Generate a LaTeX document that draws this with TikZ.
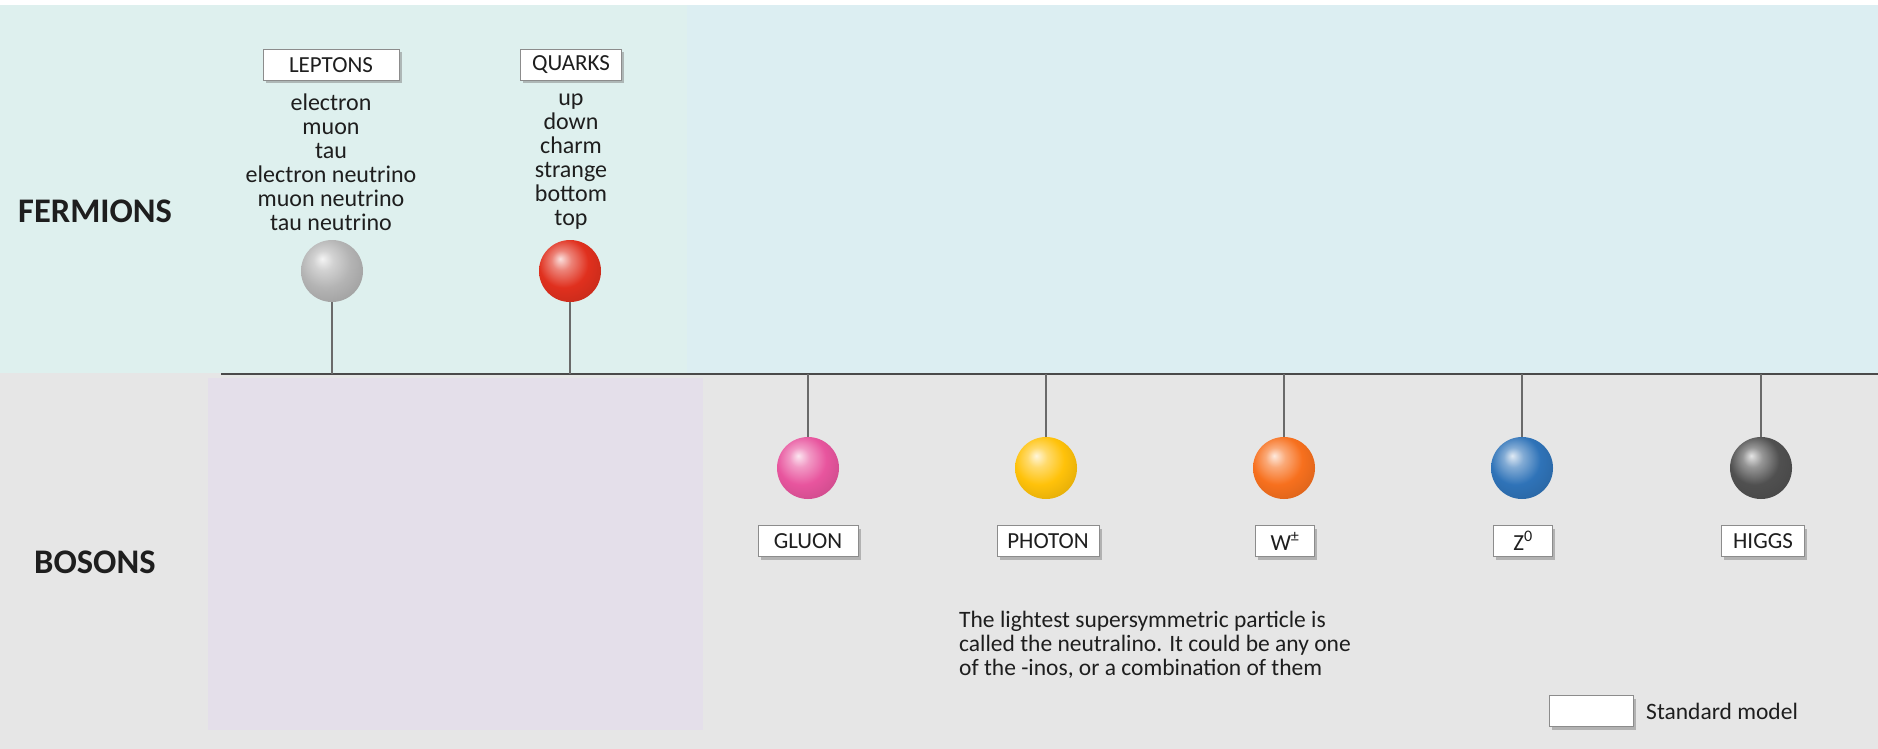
\documentclass[tikz,border=0pt]{standalone}
\usepackage{fontspec}
\setmainfont{Carlito}
\usetikzlibrary{shadows}
\definecolor{ferL}{HTML}{DEF0EE}
\definecolor{ferR}{HTML}{DCEEF2}
\definecolor{bosBG}{HTML}{E6E6E6}
\definecolor{susy}{HTML}{E4DFEA}
\definecolor{axis}{HTML}{4A4A4A}
\definecolor{stickc}{HTML}{6A6A6A}
\definecolor{txt}{HTML}{1E1E1E}
\definecolor{cLep}{HTML}{B4B4B4}
\definecolor{cQrk}{HTML}{E0301E}
\definecolor{cGlu}{HTML}{E8559E}
\definecolor{cPho}{HTML}{FFC20A}
\definecolor{cW}{HTML}{F7701E}
\definecolor{cZ}{HTML}{2F73B8}
\definecolor{cH}{HTML}{505050}
\makeatletter
\pgfdeclareradialshading[tikz@ball]{softball}{\pgfqpoint{-8bp}{10bp}}{%
  color(0bp)=(tikz@ball!15!white); color(8bp)=(tikz@ball!60!white);
  color(20bp)=(tikz@ball); color(34bp)=(tikz@ball!88!black); color(58bp)=(tikz@ball!65!black)}
\makeatother
\tikzset{
  tag/.style={draw=black!45, line width=0.8, fill=white, minimum height=31, inner sep=0,
    text=txt, font=\fontsize{23}{24}\selectfont,
    drop shadow={shadow xshift=2.5pt, shadow yshift=-3pt, fill=black!50, opacity=0.5}},
  particle/.style={circle, minimum size=62, inner sep=0, ball color=#1, shading=softball},
  stick/.style={draw=stickc, line width=1.6},
  listtext/.style={align=center, text=txt, font=\fontsize{24}{24}\selectfont, inner sep=0},
  grouplabel/.style={text=txt, font=\bfseries\fontsize{34.5}{38}\selectfont, anchor=west, inner sep=0}
}
\begin{document}
\begin{tikzpicture}[x=1pt,y=-1pt]
\useasboundingbox (0,0) rectangle (1878,749);
\fill[white] (0,0) rectangle (1878,749);
% backgrounds
\fill[ferL] (0,5) rectangle (687,373);
\fill[ferR] (687,5) rectangle (1878,373);
\fill[bosBG] (0,373) rectangle (1878,749);
\fill[susy] (208,378) rectangle (703,730);
% axis
\coordinate (axL) at (221,374);
\coordinate (axR) at (1878,374);
\draw[axis, line width=2.6] (axL) -- (axR);
% group labels
\node[grouplabel] (ferm) at (18,211) {FERMIONS};
\node[grouplabel] (bos) at (34,562) {BOSONS};
% fermions
\node[tag, minimum width=136] (leptag) at (331,65) {LEPTONS};
\node[tag, minimum width=101] (qrktag) at (571,65) {QUARKS};
\node[listtext] (leplist) at (331,162) {electron\\muon\\tau\\electron neutrino\\muon neutrino\\tau neutrino};
\node[listtext] (qrklist) at (571,162) {up\\down\\charm\\strange\\bottom\\top};
\node[particle=cLep] (lep) at (332,271) {};
\node[particle=cQrk] (qrk) at (570,271) {};
\draw[stick] (lep.south) -- (lep |- axL);
\draw[stick] (qrk.south) -- (qrk |- axL);
% bosons
\node[particle=cGlu] (glu) at (808,468) {};
\node[particle=cPho] (pho) at (1046,468) {};
\node[particle=cW] (wb) at (1284,468) {};
\node[particle=cZ] (zb) at (1522,468) {};
\node[particle=cH] (hig) at (1761,468) {};
\foreach \b in {glu,pho,wb,zb,hig}{\draw[stick] (\b |- axL) -- (\b.north);}
\node[tag, minimum width=100] (glutag) at (808,541) {GLUON};
\node[tag, minimum width=102] (photag) at (1048,541) {PHOTON};
\node[tag, minimum width=59] (wtag) at (1285,541) {W\textsuperscript{±}};
\node[tag, minimum width=59] (ztag) at (1523,541) {Z\textsuperscript{0}};
\node[tag, minimum width=83] (higtag) at (1763,541) {HIGGS};
% note
\node[align=left, anchor=west, text=txt, inner sep=0, font=\fontsize{23.5}{24}\selectfont] (note) at (959,645)
 {The lightest supersymmetric particle is\\called the neutralino. It could be any one\\of the -inos, or a combination of them};
% legend
\node[tag, minimum width=84, minimum height=31] (legbox) at (1591,711) {};
\node[anchor=west, text=txt, inner sep=0, font=\fontsize{23.5}{24}\selectfont] (legtext) at (1646,711) {Standard model};
\end{tikzpicture}
\end{document}
